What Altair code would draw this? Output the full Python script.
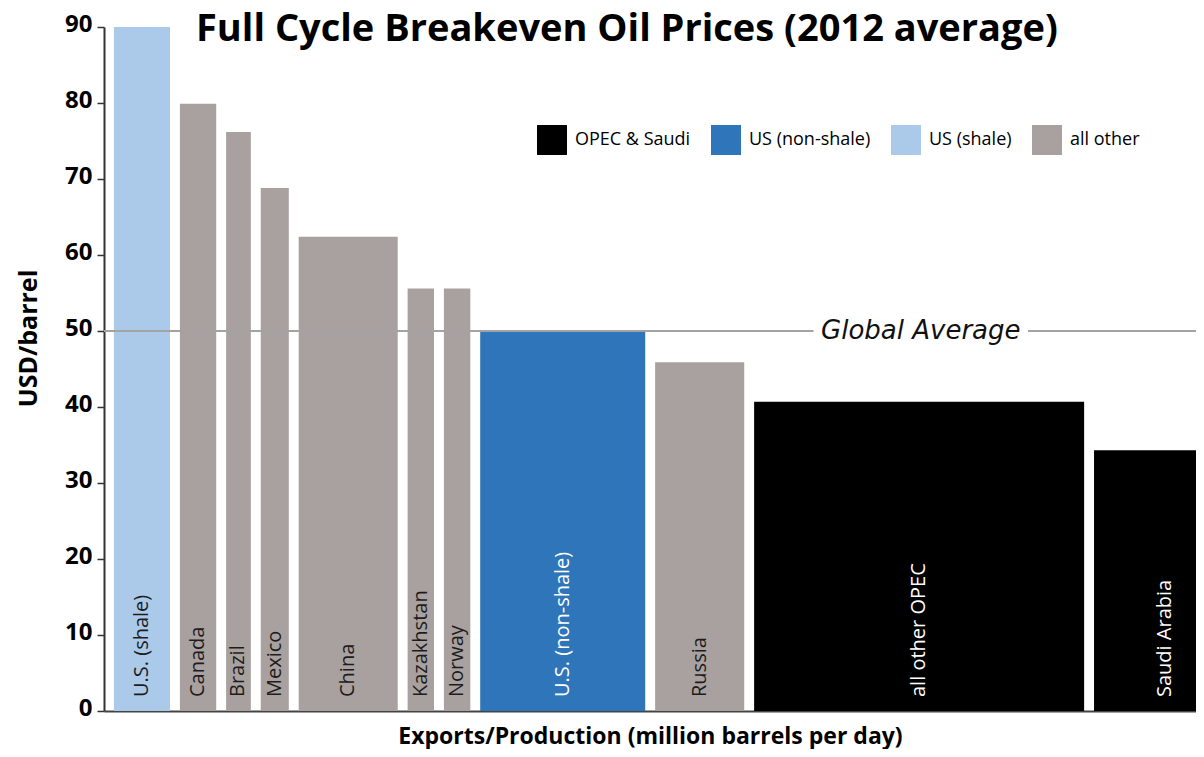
import altair as alt
import pandas as pd

# ---- data ----
names = ["U.S. (shale)", "Canada", "Brazil", "Mexico", "China", "Kazakhstan",
         "Norway", "U.S. (non-shale)", "Russia", "all other OPEC", "Saudi Arabia"]
volumes = [1.7, 1.1, 0.75, 0.85, 3.0, 0.8, 0.8, 5.0, 2.7, 10.0, 4.3]
prices = [90, 79.9, 76.2, 68.8, 62.4, 55.6, 55.6, 50.1, 45.9, 40.7, 34.3]
groups = ["US (shale)", "all other", "all other", "all other", "all other",
          "all other", "all other", "US (non-shale)", "all other",
          "OPEC & Saudi", "OPEC & Saudi"]

legend_order = ["OPEC & Saudi", "US (non-shale)", "US (shale)", "all other"]
legend_colors = ["#000000", "#2e75b9", "#abc9e9", "#a8a19f"]

y_ticks = [0, 10, 20, 30, 40, 50, 60, 70, 80, 90]
gap = 0.3
x_max = 33.09

avg_price = 50
avg_label = "Global Average"
avg_label_x = 24.75
avg_label_half = 3.25

TITLE = "Full Cycle Breakeven Oil Prices (2012 average)"
X_TITLE = "Exports/Production (million barrels per day)"
Y_TITLE = "USD/barrel"

# ---- build table ----
x0, x1 = [], []
pos = 0.0
for w in volumes:
    pos += gap
    x0.append(pos)
    pos += w
    x1.append(pos)

df = pd.DataFrame({"name": names, "volume": volumes, "price": prices,
                   "group": groups, "x0": x0, "x1": x1})
df["xm"] = (df["x0"] + df["x1"]) / 2

avg_df = pd.DataFrame({
    "a": [0, avg_label_x + avg_label_half],
    "b": [avg_label_x - avg_label_half, x_max],
    "y": [avg_price, avg_price],
})
avg_txt_df = pd.DataFrame({"x": [avg_label_x], "y": [avg_price], "t": [avg_label]})

BOLD_FONT = "Open Sans"
REG_FONT = "Open Sans"

xscale = alt.Scale(domain=[0, x_max], nice=False, zero=False)
yscale = alt.Scale(domain=[0, 90], nice=False)

bars = alt.Chart(df).mark_rect(clip=True).encode(
    x=alt.X("x0:Q", scale=xscale,
            axis=alt.Axis(title=X_TITLE, labels=False, ticks=False, grid=False,
                          domainColor="#444444", domainWidth=2,
                          titleFont=BOLD_FONT, titleFontSize=23,
                          titleFontWeight="bold", titleColor="black",
                          titlePadding=14)),
    x2="x1:Q",
    y=alt.Y("price:Q", scale=yscale,
            axis=alt.Axis(title=Y_TITLE, values=y_ticks, grid=False,
                          domainColor="#333333", domainWidth=2,
                          tickColor="#333333", tickSize=7, tickWidth=1.5,
                          labelFont=BOLD_FONT, labelFontWeight="bold",
                          labelFontSize=24, labelColor="black",
                          labelPadding=5, labelOffset=-3,
                          titleFont=BOLD_FONT, titleFontSize=25,
                          titleFontWeight="bold", titleColor="black",
                          titleAngle=270, titleAlign="center",
                          titleBaseline="bottom", titleX=-63, titleY=311)),
    y2=alt.datum(0),
    color=alt.Color("group:N",
                    scale=alt.Scale(domain=legend_order, range=legend_colors),
                    legend=alt.Legend(title=None, orient="none",
                                      legendX=433, legendY=98,
                                      direction="horizontal",
                                      symbolType="square", symbolSize=900,
                                      symbolStrokeWidth=0, symbolOpacity=1,
                                      labelFont=REG_FONT, labelFontSize=18,
                                      labelColor="black", labelOffset=8,
                                      columnPadding=20, padding=0, offset=0)),
)

rule = alt.Chart(avg_df).mark_rule(color="#a3a3a3", strokeWidth=2).encode(
    x=alt.X("a:Q", scale=xscale), x2="b:Q", y=alt.Y("y:Q", scale=yscale))

avg_text = alt.Chart(avg_txt_df).mark_text(
    font="DejaVu Sans", fontStyle="italic", fontSize=26, baseline="middle",
    color="#111111").encode(
    x=alt.X("x:Q", scale=xscale), y=alt.Y("y:Q", scale=yscale), text="t:N")

labels = alt.Chart(df).mark_text(
    angle=270, align="left", baseline="middle", dx=14,
    font=REG_FONT, fontSize=20).encode(
    x=alt.X("xm:Q", scale=xscale),
    y=alt.datum(0),
    text="name:N",
    color=alt.condition(
        "datum.group == 'OPEC & Saudi' || datum.group == 'US (non-shale)'",
        alt.value("white"), alt.value("#1c1c1c")),
)

chart = alt.layer(bars, rule, avg_text, labels).properties(
    width=1092, height=684,
    background="white",
    autosize=alt.AutoSizeParams(type="none"),
    padding={"left": 96, "top": 19, "right": 0, "bottom": 38},
    title=alt.TitleParams(TITLE, anchor="start", frame="group", dx=92,
                          offset=-37, font=BOLD_FONT, fontSize=38,
                          fontWeight="bold", color="black"),
).configure_view(stroke="transparent", strokeWidth=0).configure_axis(grid=False)

chart.save("out.html", embed_options={"renderer": "svg", "actions": False})
